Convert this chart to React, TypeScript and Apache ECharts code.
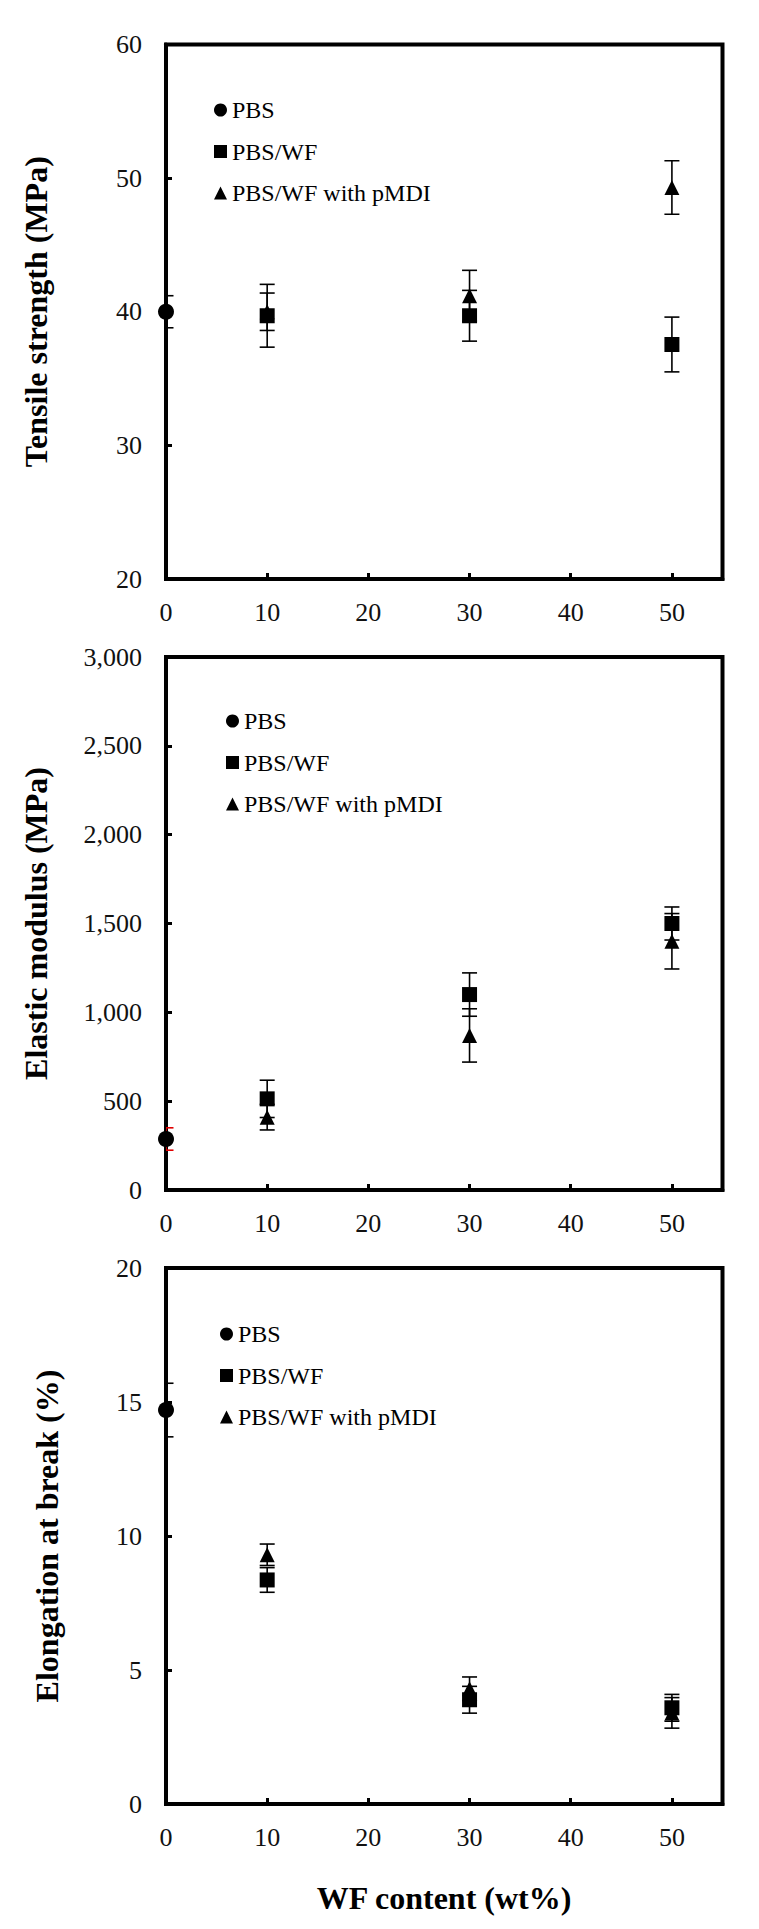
import React, { useEffect, useRef } from "react";
import * as echarts from "echarts";

// ---- data ----
const wfX = [10, 30, 50];

// Tensile strength (MPa)
const pbsTS = 40.0;
const pbsTSErr = 1.2;
const wfTS = [39.7, 39.7, 37.55];
const wfTSErr = [2.35, 1.9, 2.05];
const pmdiTS = [40.0, 41.2, 49.3];
const pmdiTSErr = [1.4, 1.9, 2.0];

// Elastic modulus (MPa)
const pbsEM = 287;
const pbsEMErr = 63;
const wfEM = [513, 1100, 1500];
const wfEMErr = [105, 122, 93];
const pmdiEM = [410, 870, 1400];
const pmdiEMErr = [72, 150, 156];

// Elongation at break (%)
const pbsEL = 14.7;
const pbsELErr = 1.0;
const wfEL = [8.36, 3.89, 3.59];
const wfELErr = [0.46, 0.5, 0.5];
const pmdiEL = [9.3, 4.3, 3.4];
const pmdiELErr = [0.4, 0.44, 0.57];

const yTitles = ["Tensile strength (MPa)", "Elastic modulus (MPa)", "Elongation at break (%)"];
const xTitle = "WF content (wt%)";
const legendNames = ["PBS", "PBS/WF", "PBS/WF with pMDI"];
const yRanges = [
  { min: 20, max: 60, interval: 10 },
  { min: 0, max: 3000, interval: 500 },
  { min: 0, max: 20, interval: 5 },
];

const FONT = '"Liberation Serif", "Times New Roman", serif';

export default function App() {
  const ref = useRef<HTMLDivElement>(null);
  useEffect(() => {
    document.body.style.margin = "0";
    const chart = echarts.init(ref.current!, null, { renderer: "svg" });

    const grids = [
      { left: 166, top: 44.5, width: 556.5, height: 534.5 },
      { left: 166, top: 657, width: 556.5, height: 533 },
      { left: 166, top: 1268, width: 556.5, height: 536 },
    ];
    const legendPos = [
      { left: 214, top: 98 },
      { left: 226, top: 709 },
      { left: 220, top: 1322 },
    ];
    const titleX = [36, 36, 47];

    const datasets = [
      { pbs: pbsTS, pbsErr: pbsTSErr, wf: wfTS, wfErr: wfTSErr, pm: pmdiTS, pmErr: pmdiTSErr, pbsErrColor: "#000" },
      { pbs: pbsEM, pbsErr: pbsEMErr, wf: wfEM, wfErr: wfEMErr, pm: pmdiEM, pmErr: pmdiEMErr, pbsErrColor: "#e00000" },
      { pbs: pbsEL, pbsErr: pbsELErr, wf: wfEL, wfErr: wfELErr, pm: pmdiEL, pmErr: pmdiELErr, pbsErrColor: "#000" },
    ];

    const errSeries = (i: number, data: number[][], color: string, z: number) => ({
      type: "custom",
      name: "err" + i + "_" + z,
      xAxisIndex: i,
      yAxisIndex: i,
      clip: true,
      z,
      silent: true,
      encode: { x: 0, y: [1, 2] },
      data,
      renderItem: (params: any, api: any) => {
        const x = api.value(0);
        const lo = api.value(1);
        const hi = api.value(2);
        const pHi = api.coord([x, hi]);
        const pLo = api.coord([x, lo]);
        const hw = 7.5;
        const style = { stroke: color, lineWidth: 1.6 };
        return {
          type: "group",
          children: [
            { type: "line", shape: { x1: pHi[0], y1: pHi[1], x2: pLo[0], y2: pLo[1] }, style },
            { type: "line", shape: { x1: pHi[0] - hw, y1: pHi[1], x2: pHi[0] + hw, y2: pHi[1] }, style },
            { type: "line", shape: { x1: pLo[0] - hw, y1: pLo[1], x2: pLo[0] + hw, y2: pLo[1] }, style },
          ],
        };
      },
    });

    const series: any[] = [];
    datasets.forEach((d, i) => {
      series.push(errSeries(i, [[0, d.pbs - d.pbsErr, d.pbs + d.pbsErr]], d.pbsErrColor, 1));
      series.push(errSeries(i, wfX.map((x, k) => [x, d.pm[k] - d.pmErr[k], d.pm[k] + d.pmErr[k]]), "#000", 1));
      series.push(errSeries(i, wfX.map((x, k) => [x, d.wf[k] - d.wfErr[k], d.wf[k] + d.wfErr[k]]), "#000", 1));
      series.push({
        type: "scatter",
        name: "PBS/WF with pMDI",
        xAxisIndex: i,
        yAxisIndex: i,
        symbol: "triangle",
        symbolSize: 15,
        itemStyle: { color: "#000", opacity: 1 },
        z: 3,
        data: wfX.map((x, k) => [x, d.pm[k]]),
      });
      series.push({
        type: "scatter",
        name: "PBS/WF",
        xAxisIndex: i,
        yAxisIndex: i,
        symbol: "rect",
        symbolSize: 15,
        itemStyle: { color: "#000", opacity: 1 },
        z: 4,
        data: wfX.map((x, k) => [x, d.wf[k]]),
      });
      series.push({
        type: "scatter",
        name: "PBS",
        xAxisIndex: i,
        yAxisIndex: i,
        symbol: "circle",
        symbolSize: 16,
        clip: false,
        itemStyle: { color: "#000", opacity: 1 },
        z: 5,
        data: [[0, d.pbs]],
      });
    });

    const option: any = {
      animation: false,
      backgroundColor: "#fff",
      grid: grids.map((g) => ({ ...g, show: true, borderColor: "#000", borderWidth: 4, backgroundColor: "transparent", containLabel: false })),
      xAxis: grids.map((_, i) => ({
        type: "value",
        gridIndex: i,
        min: 0,
        max: 55,
        interval: 10,
        splitLine: { show: false },
        axisLine: { show: true, lineStyle: { color: "#000", width: 4 } },
        axisTick: { show: true, inside: true, length: 6, lineStyle: { color: "#000", width: 3 } },
        axisLabel: {
          margin: 20,
          fontFamily: FONT,
          fontSize: 26,
          color: "#111",
          formatter: (v: number) => (v % 10 === 0 ? String(v) : ""),
        },
      })),
      yAxis: grids.map((_, i) => ({
        type: "value",
        gridIndex: i,
        min: yRanges[i].min,
        max: yRanges[i].max,
        interval: yRanges[i].interval,
        splitLine: { show: false },
        axisLine: { show: true, lineStyle: { color: "#000", width: 4 } },
        axisTick: { show: true, inside: true, length: 6, lineStyle: { color: "#000", width: 3 } },
        axisLabel: {
          margin: 24,
          fontFamily: FONT,
          fontSize: 26,
          color: "#111",
          formatter: (v: number) => v.toLocaleString("en-US"),
        },
      })),
      legend: legendPos.map((p) => ({
        orient: "vertical",
        left: p.left,
        top: p.top,
        padding: 0,
        itemWidth: 13,
        itemHeight: 13,
        itemGap: 17.5,
        selectedMode: false,
        itemStyle: { opacity: 1 },
        textStyle: { fontFamily: FONT, fontSize: 24, lineHeight: 24, color: "#000" },
        data: [
          { name: legendNames[0], icon: "circle" },
          { name: legendNames[1], icon: "rect" },
          { name: legendNames[2], icon: "triangle" },
        ],
      })),
      graphic: [
        ...grids.map((g, i) => ({
          type: "text",
          x: titleX[i],
          y: g.top + g.height / 2,
          rotation: Math.PI / 2,
          style: {
            text: yTitles[i],
            fontFamily: FONT,
            fontWeight: "bold",
            fontSize: 32,
            fill: "#000",
            align: "center",
            verticalAlign: "middle",
          },
        })),
        {
          type: "text",
          x: 444,
          y: 1898,
          style: {
            text: xTitle,
            fontFamily: FONT,
            fontWeight: "bold",
            fontSize: 32,
            fill: "#000",
            align: "center",
            verticalAlign: "middle",
          },
        },
      ],
      series,
    };
    chart.setOption(option);
    return () => chart.dispose();
  }, []);
  return <div ref={ref} style={{ width: 759, height: 1929 }} />;
}
